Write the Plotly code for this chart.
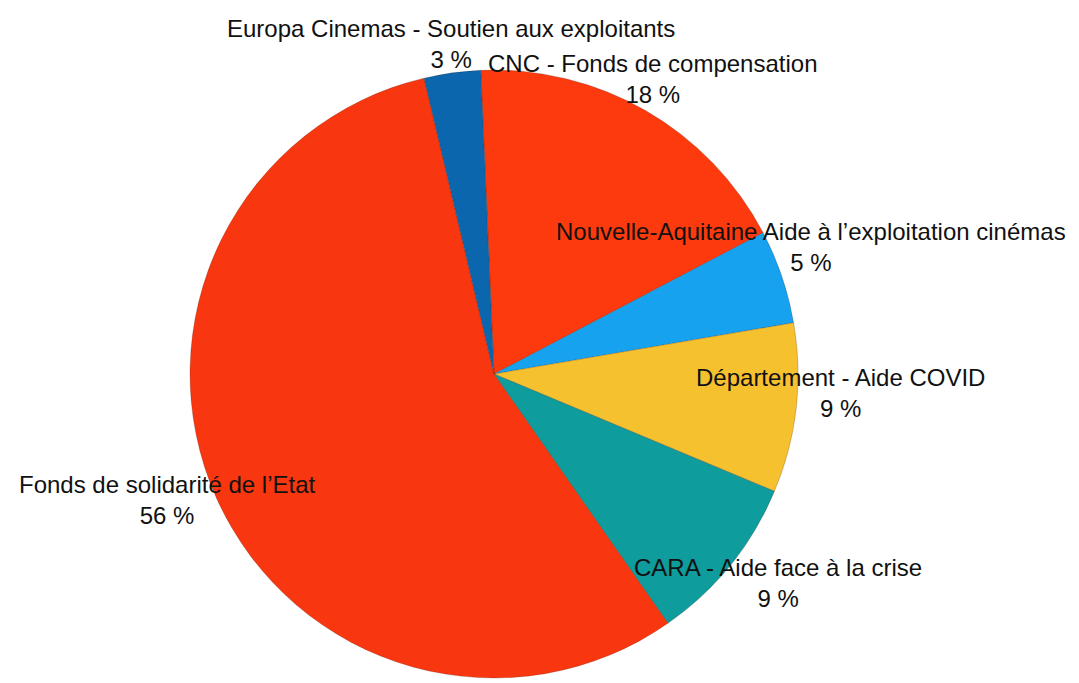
import math
import plotly.graph_objects as go

labels = [
    "CNC - Fonds de compensation",
    "Nouvelle-Aquitaine Aide à l’exploitation cinémas",
    "Département - Aide COVID",
    "CARA - Aide face à la crise",
    "Fonds de solidarité de l’Etat",
    "Europa Cinemas - Soutien aux exploitants",
]
percents = [18, 5, 9, 9, 56, 3]
colors = ["#FC3A0E", "#16A2EE", "#F6C12F", "#0E9C9C", "#F8360F", "#0B66AE"]

W, H = 1079, 683
margin = dict(t=62, b=13, l=0, r=0)
dom_x = [0, 972 / 1079]
rotation = -2.5

fig = go.Figure(go.Pie(
    labels=labels,
    values=percents,
    sort=False,
    direction="clockwise",
    rotation=rotation,
    textinfo="none",
    hoverinfo="label+percent",
    marker=dict(colors=colors, line=dict(color="rgba(60,20,10,0.35)", width=0.6)),
    domain=dict(x=dom_x, y=[0, 1]),
    showlegend=False,
))

# labels around the pie at each slice's middle angle (pixels -> paper units)
plot_w = W - margin["l"] - margin["r"]
plot_h = H - margin["t"] - margin["b"]
cx = (dom_x[0] + dom_x[1]) / 2
cy = 0.5
lift = 20            # label ring sits a bit above the pie centre
ring_a, ring_b = 345, 32

total = sum(percents)
start = rotation
for lab, p in zip(labels, percents):
    mid = math.radians(start + 360 * p / total / 2)
    start += 360 * p / total
    r = ring_a - ring_b * math.cos(mid)
    fig.add_annotation(
        x=cx + r * math.sin(mid) / plot_w,
        y=cy + (lift + r * math.cos(mid)) / plot_h,
        xref="paper", yref="paper",
        text=f"{lab}<br>{round(100 * p / total)} %",
        showarrow=False,
        xanchor="center", yanchor="middle",
        align="center",
        font=dict(size=24, color="#111111"),
    )

fig.update_layout(
    width=W, height=H,
    paper_bgcolor="white",
    plot_bgcolor="white",
    font=dict(family="Liberation Sans, Arial, Helvetica, sans-serif", color="#111111"),
    margin=margin,
)
fig.write_html("out.html")
